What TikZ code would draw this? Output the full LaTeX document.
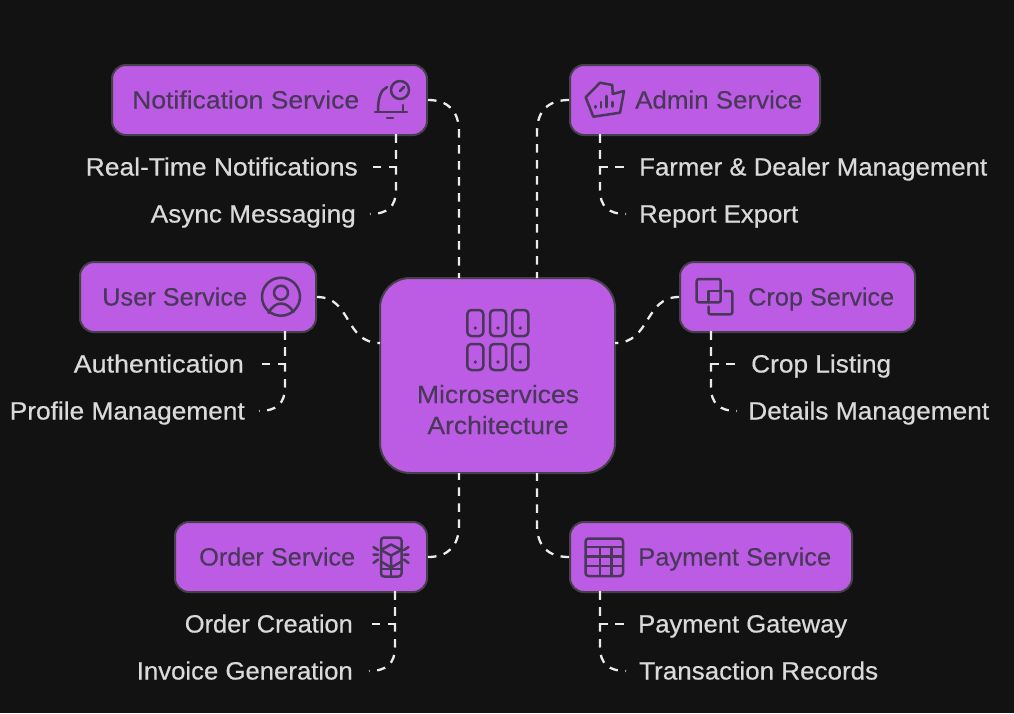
\documentclass[tikz,border=0pt]{standalone}
\usepackage{fontspec}
\usepackage{graphicx}
\setmainfont{Liberation Sans}
\newfontfamily\lblfont[FakeBold=0.5]{Liberation Sans}
\newfontfamily\svcfont[FakeBold=0.25]{Liberation Sans}
\definecolor{bg}{HTML}{121212}
\definecolor{boxfill}{HTML}{BC5BE3}
\definecolor{boxedge}{HTML}{45404A}
\definecolor{ink}{HTML}{49385A}
\definecolor{lbl}{HTML}{DADADA}
\newcommand{\fw}[2]{\resizebox{#1pt}{\height}{#2}}
\tikzset{
  svc/.style={draw=boxedge,fill=boxfill,line width=2pt,rounded corners=14pt,inner sep=0pt},
  hub/.style={draw=boxedge,fill=boxfill,line width=2pt,rounded corners=30pt,inner sep=0pt},
  svctext/.style={text=ink,font=\svcfont\fontsize{25}{25}\selectfont,inner sep=0pt,anchor=base west},
  lblr/.style={text=lbl,font=\lblfont\fontsize{25}{25}\selectfont,inner sep=0pt,anchor=base east},
  lbll/.style={text=lbl,font=\lblfont\fontsize{25}{25}\selectfont,inner sep=0pt,anchor=base west},
  link/.style={draw=white!92!black,line width=2.3pt,dash pattern=on 8.5pt off 7.5pt},
  icon/.style={draw=ink,line width=2.5pt,line cap=round,line join=round}
}
\begin{document}
\begin{tikzpicture}[x=1pt,y=-1pt]
\useasboundingbox[fill=bg] (0,0) rectangle (1014,713);
% boxes
\node[svc,minimum width=315pt,minimum height=70pt] (notif) at (269.5,100) {};
\node[svc,minimum width=250pt,minimum height=70pt] (admin) at (695,100) {};
\node[svc,minimum width=236pt,minimum height=70pt] (user) at (198,297) {};
\node[svc,minimum width=235pt,minimum height=70pt] (crop) at (797.5,297) {};
\node[svc,minimum width=252pt,minimum height=70pt] (order) at (301,557) {};
\node[svc,minimum width=282pt,minimum height=70pt] (pay) at (711,557) {};
\node[hub,minimum width=235pt,minimum height=195pt] (hub) at (497.5,375.5) {};
% box texts
\node[svctext] (tnotif) at (132,108.5) {\fw{227}{Notification Service}};
\node[svctext] (tadmin) at (635,108.5) {\fw{167}{Admin Service}};
\node[svctext] (tuser) at (102,305.5) {\fw{145}{User Service}};
\node[svctext] (tcrop) at (748,305.5) {\fw{146}{Crop Service}};
\node[svctext] (torder) at (199,565.5) {\fw{156}{Order Service}};
\node[svctext] (tpay) at (638,565.5) {\fw{193}{Payment Service}};
\node[svctext,anchor=base] (thub1) at (498,403) {\fw{162}{Microservices}};
\node[svctext,anchor=base] (thub2) at (498,434) {\fw{141}{Architecture}};
% labels
\node[lblr] (l1) at (358,175.5) {\fw{272}{Real-Time Notifications}};
\node[lblr] (l2) at (356,222.5) {\fw{205}{Async Messaging}};
\node[lblr] (l3) at (244,372.5) {\fw{170}{Authentication}};
\node[lblr] (l4) at (245,419.5) {\fw{235}{Profile Management}};
\node[lblr] (l5) at (353,632.5) {\fw{168}{Order Creation}};
\node[lblr] (l6) at (353,679.5) {\fw{216}{Invoice Generation}};
\node[lbll] (r1) at (639,175.5) {\fw{348}{Farmer \& Dealer Management}};
\node[lbll] (r2) at (639,222.5) {\fw{159}{Report Export}};
\node[lbll] (r3) at (751,372.5) {\fw{140}{Crop Listing}};
\node[lbll] (r4) at (748,419.5) {\fw{241}{Details Management}};
\node[lbll] (r5) at (638,632.5) {\fw{209}{Payment Gateway}};
\node[lbll] (r6) at (639,679.5) {\fw{239}{Transaction Records}};
% free ends beside the labels
\coordinate (e1) at (372,167);
\coordinate (e2) at (370,214);
\coordinate (e3) at (261,364);
\coordinate (e4) at (259,411);
\coordinate (e5) at (371,624);
\coordinate (e6) at (369,671);
\coordinate (f1) at (624,167);
\coordinate (f2) at (626,214);
\coordinate (f3) at (735,364);
\coordinate (f4) at (737,411);
\coordinate (f5) at (624,624);
\coordinate (f6) at (626,671);
% hub links
\draw[link] (notif.east) .. controls (448,100) and (459,111) .. (459,132) -- (459,278);
\draw[link] (admin.west) .. controls (548,100) and (537,111) .. (537,132) -- (537,278);
\draw[link] (user.east) .. controls (352,297) and (344,343) .. (380,343);
\draw[link] (crop.west) .. controls (644,297) and (651,343) .. (615,343);
\draw[link] (order.east) .. controls (448,557) and (459,546) .. (459,525) -- (459,473);
\draw[link] (pay.west) .. controls (548,557) and (537,546) .. (537,525) -- (537,473);
% label links
\draw[link] (396,134) -- (396,167) -- (e1);
\draw[link] (396,134) -- (396,190) .. controls (396,206) and (388,214) .. (e2);
\draw[link] (285,331) -- (285,364) -- (e3);
\draw[link] (285,331) -- (285,387) .. controls (285,403) and (277,411) .. (e4);
\draw[link] (395,591) -- (395,624) -- (e5);
\draw[link] (395,591) -- (395,647) .. controls (395,663) and (387,671) .. (e6);
\draw[link] (600,134) -- (600,167) -- (f1);
\draw[link] (600,134) -- (600,190) .. controls (600,206) and (608,214) .. (f2);
\draw[link] (711,331) -- (711,364) -- (f3);
\draw[link] (711,331) -- (711,387) .. controls (711,403) and (719,411) .. (f4);
\draw[link] (600,591) -- (600,624) -- (f5);
\draw[link] (600,591) -- (600,647) .. controls (600,663) and (608,671) .. (f6);
% bell icon
\draw[icon] (400,90) circle (9);
\draw[icon] (400,91) -- (404,87);
\draw[icon] (387,87) .. controls (381,90) and (378,97) .. (378,111);
\draw[icon] (403,105) -- (403,111);
\draw[icon] (375,112) -- (407,112);
\draw[icon] (387,118) -- (393,118);
% admin icon
\draw[icon] (585.7,97.3) -- (600,82.7) -- (612.3,85) -- (612.7,94) -- (624,91) -- (620,112.7) -- (593.3,116.7) -- cycle;
\draw[icon] (595.7,106) -- (595.7,107.5) (601,102) -- (601,107.5) (606.7,96) -- (606.7,107) (612.7,102) -- (612.7,106.5);
% user icon
\draw[icon] (281,296.7) circle (19);
\draw[icon] (281,292.7) circle (7);
\draw[icon] (268.5,313) .. controls (272,306) and (277,303.5) .. (281,303.5) .. controls (285,303.5) and (290,306) .. (293.5,312);
% hub icon
\foreach \cx in {475.3,498,520.3} \foreach \cy in {323,357} {
  \draw[icon,rounded corners=4pt] (\cx-8,\cy-13) rectangle (\cx+8,\cy+13);
  \fill[ink] (\cx,\cy+5) circle (1.8);
}
% crop icon
\draw[icon,rounded corners=2pt] (696.7,279) rectangle (720.7,302.3);
\draw[icon] (708.5,302.3) -- (708.5,291) -- (720.7,291);
\draw[icon,rounded corners=2pt] (724.5,291) -- (732.3,291) -- (732.3,314.3) -- (708.5,314.3) -- (708.5,306.5);
% order icon
\draw[icon,rounded corners=3pt] (381,550) -- (381,537.5) -- (401.5,537.5) -- (401.5,550);
\draw[icon,rounded corners=3pt] (381,562) -- (381,576.5) -- (401.5,576.5) -- (401.5,562);
\draw[icon] (391,544.5) -- (401.5,550) -- (401.5,561.5) -- (391,567.5) -- (381,561.5) -- (381,550) -- cycle;
\draw[icon] (381,550) -- (391,555.5) -- (401.5,550) (391,555.5) -- (391,567.5);
\draw[icon] (381,569) -- (401.5,569) (391,569) -- (391,576.5);
\draw[icon] (373.5,554.5) -- (378,554.5) (373.5,547) -- (378,550) (373.5,563) -- (378,559.5);
\draw[icon] (408.5,554.5) -- (404,554.5) (408.5,547) -- (404,550) (408.5,563) -- (404,559.5);
% payment icon
\draw[icon,rounded corners=3pt] (585.5,538.5) rectangle (623,576);
\draw[icon] (585.5,547) -- (623,547) (585.5,556.5) -- (623,556.5) (585.5,566) -- (623,566);
\draw[icon] (600,547) -- (600,576) (611.5,547) -- (611.5,576);
\end{tikzpicture}
\end{document}
